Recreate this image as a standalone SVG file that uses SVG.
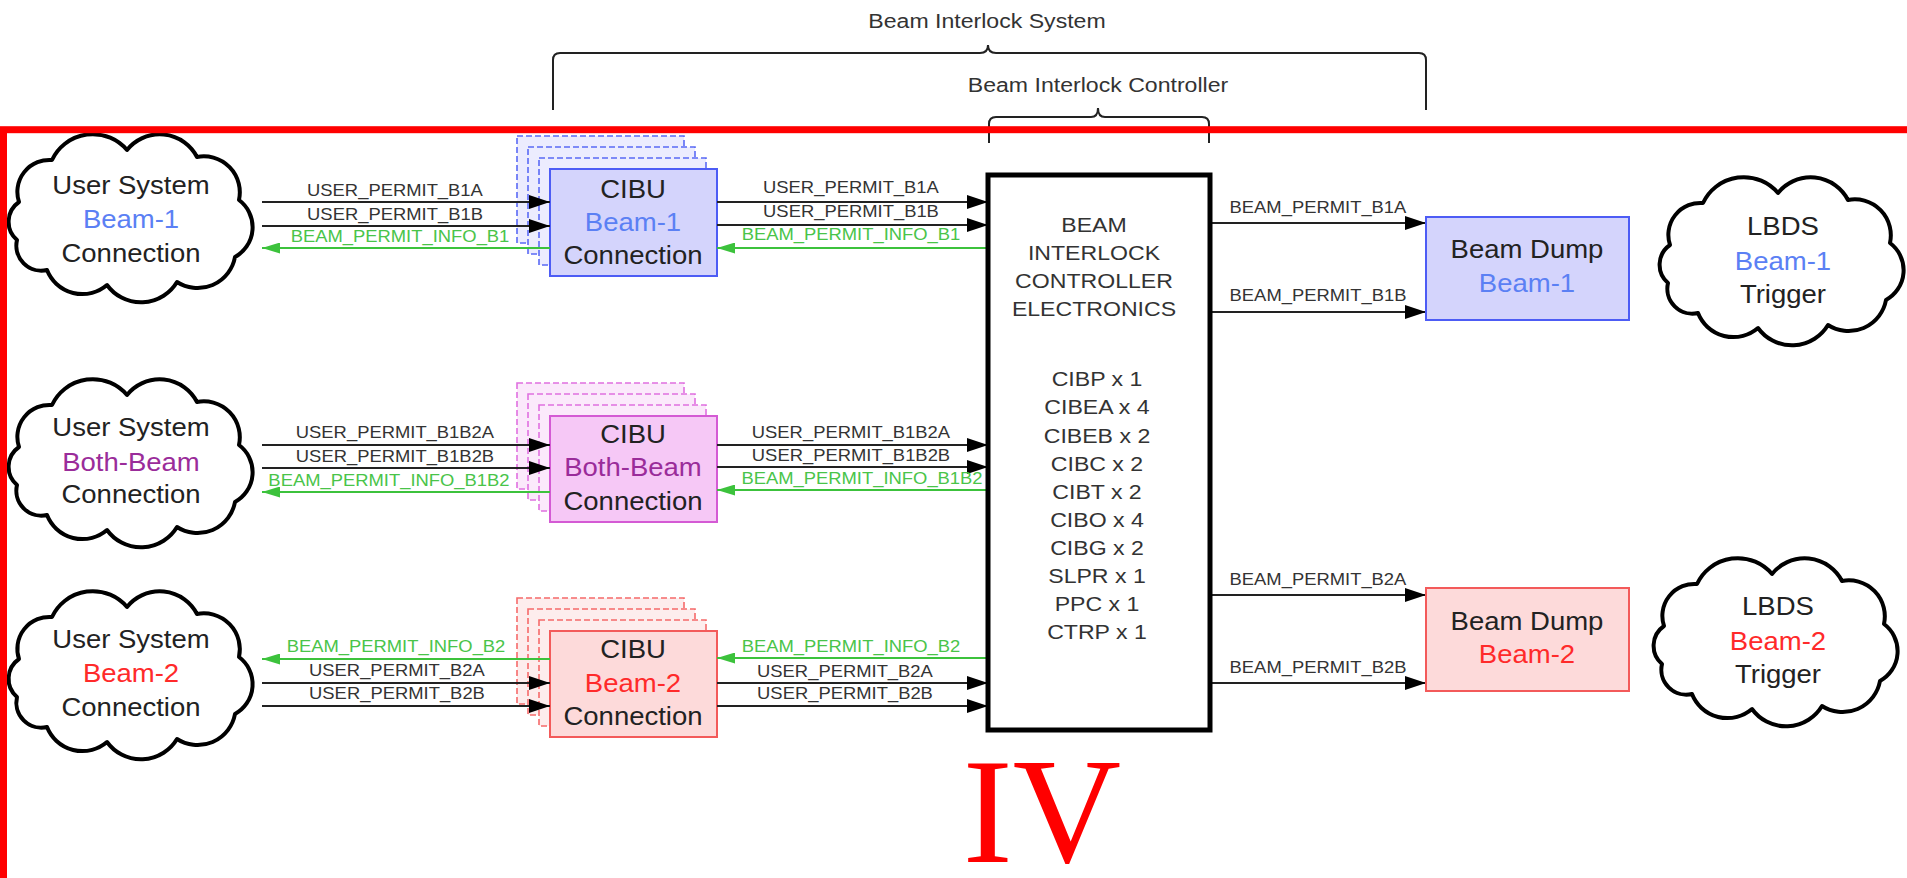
<svg xmlns="http://www.w3.org/2000/svg" width="1907" height="878" viewBox="0 0 1907 878">
<style>
text{font-family:"Liberation Sans",Arial,Helvetica,sans-serif;text-anchor:middle;transform-box:fill-box;transform-origin:center}
.n{font-size:25px;fill:#222;transform:scaleX(1.1)}
.h{font-size:21px;fill:#333;transform:scaleX(1.1)}
.l{font-size:16px;fill:#333;transform:scaleX(1.15)}
.lg{font-size:16px;fill:#49c449;transform:scaleX(1.15)}
.blue{fill:#5b80f4}.mag{fill:#9a2c9a}.red{fill:#ff2a2a}
.iv{font-family:"Liberation Serif","Times New Roman",serif;font-size:150px;fill:#ff0000}
.cloud{fill:#fff;stroke:#000;stroke-width:4;stroke-linejoin:round}
.w{stroke:#222;stroke-width:2;fill:none}
.wg{stroke:#3cc23c;stroke-width:2;fill:none}
.br{fill:none;stroke:#222;stroke-width:2}
.bb{fill:#d4d4fc;stroke:#4d5cf5;stroke-width:2}
.bbd{fill:#ececfe;stroke:#5a6af5;stroke-width:1.6;stroke-dasharray:6 3}
.mb{fill:#f6c8f6;stroke:#d45ad4;stroke-width:2}
.mbd{fill:#fbe9fb;stroke:#e070e0;stroke-width:1.6;stroke-dasharray:6 3}
.rb{fill:#fddada;stroke:#f35a5a;stroke-width:2}
.rbd{fill:#fdeded;stroke:#f56a6a;stroke-width:1.6;stroke-dasharray:6 3}
</style>
<defs>
<marker id="ab" markerUnits="userSpaceOnUse" markerWidth="22" markerHeight="14" refX="21" refY="7" orient="auto"><path d="M0,0 L21,7 L0,14 z" fill="#000"/></marker>
<marker id="ag" markerUnits="userSpaceOnUse" markerWidth="18" markerHeight="11" refX="18" refY="5.5" orient="auto"><path d="M0,0 L18,5.5 L0,11 z" fill="#3cc23c"/></marker>
<path id="cl" d="M12,70 A32,32 0 0 1 45,28 A45,45 0 0 1 120,18 A42,42 0 0 1 190,25 A36,36 0 0 1 232,68 A34,34 0 0 1 228,125 A38,38 0 0 1 170,150 A42,42 0 0 1 100,153 A38,38 0 0 1 40,138 A25,25 0 0 1 10,108 A24,24 0 0 1 12,70 z"/>
</defs>
<rect width="1907" height="878" fill="#fff"/>

<g id="braces">
<path class="br" d="M553,110 V60 Q553,53 560,53 H980 Q988,53 988,45 Q988,53 996,53 H1419 Q1426,53 1426,60 V110"/>
<path class="br" d="M989,143 V124 Q989,117 996,117 H1091 Q1098,117 1098,108 Q1098,117 1105,117 H1202 Q1209,117 1209,124 V143"/>
<text class="h" x="987" y="28">Beam Interlock System</text>
<text class="h" x="1098" y="92">Beam Interlock Controller</text>
</g>

<g id="user-beam1">
<use href="#cl" class="cloud" x="7" y="132"/>
<text class="n" x="131" y="194">User System</text>
<text class="n blue" x="131" y="228">Beam-1</text>
<text class="n" x="131" y="262">Connection</text>
</g>
<g id="user-both">
<use href="#cl" class="cloud" x="7" y="377"/>
<text class="n" x="131" y="436">User System</text>
<text class="n mag" x="131" y="471">Both-Beam</text>
<text class="n" x="131" y="503">Connection</text>
</g>
<g id="user-beam2">
<use href="#cl" class="cloud" x="7" y="589"/>
<text class="n" x="131" y="648">User System</text>
<text class="n red" x="131" y="682">Beam-2</text>
<text class="n" x="131" y="716">Connection</text>
</g>

<g id="cibu-beam1">
<rect class="bbd" x="517" y="136" width="167" height="107"/>
<rect class="bbd" x="528" y="147" width="167" height="107"/>
<rect class="bbd" x="539" y="158" width="167" height="107"/>
<rect class="bb" x="550" y="169" width="167" height="107"/>
<text class="n" x="633" y="198">CIBU</text>
<text class="n blue" x="633" y="231">Beam-1</text>
<text class="n" x="633" y="264">Connection</text>
</g>
<g id="cibu-both">
<rect class="mbd" x="517" y="383" width="167" height="106"/>
<rect class="mbd" x="528" y="394" width="167" height="106"/>
<rect class="mbd" x="539" y="405" width="167" height="106"/>
<rect class="mb" x="550" y="416" width="167" height="106"/>
<text class="n" x="633" y="443">CIBU</text>
<text class="n mag" x="633" y="476">Both-Beam</text>
<text class="n" x="633" y="510">Connection</text>
</g>
<g id="cibu-beam2">
<rect class="rbd" x="517" y="598" width="167" height="106"/>
<rect class="rbd" x="528" y="609" width="167" height="106"/>
<rect class="rbd" x="539" y="620" width="167" height="106"/>
<rect class="rb" x="550" y="631" width="167" height="106"/>
<text class="n" x="633" y="658">CIBU</text>
<text class="n red" x="633" y="692">Beam-2</text>
<text class="n" x="633" y="725">Connection</text>
</g>

<g id="connectors">
<path class="w" d="M262,202 H550" marker-end="url(#ab)"/>
<path class="w" d="M262,226 H550" marker-end="url(#ab)"/>
<path class="wg" d="M550,248 H262" marker-end="url(#ag)"/>
<path class="w" d="M717,202 H988" marker-end="url(#ab)"/>
<path class="w" d="M717,225 H988" marker-end="url(#ab)"/>
<path class="wg" d="M988,248 H717" marker-end="url(#ag)"/>

<path class="w" d="M262,445 H550" marker-end="url(#ab)"/>
<path class="w" d="M262,468 H550" marker-end="url(#ab)"/>
<path class="wg" d="M550,492 H262" marker-end="url(#ag)"/>
<path class="w" d="M717,445 H988" marker-end="url(#ab)"/>
<path class="w" d="M717,467 H988" marker-end="url(#ab)"/>
<path class="wg" d="M988,490 H717" marker-end="url(#ag)"/>

<path class="wg" d="M550,659 H262" marker-end="url(#ag)"/>
<path class="w" d="M262,683 H550" marker-end="url(#ab)"/>
<path class="w" d="M262,706 H550" marker-end="url(#ab)"/>
<path class="wg" d="M988,658 H717" marker-end="url(#ag)"/>
<path class="w" d="M717,683 H988" marker-end="url(#ab)"/>
<path class="w" d="M717,706 H988" marker-end="url(#ab)"/>

<path class="w" d="M1212,223 H1426" marker-end="url(#ab)"/>
<path class="w" d="M1212,312 H1426" marker-end="url(#ab)"/>
<path class="w" d="M1212,595 H1426" marker-end="url(#ab)"/>
<path class="w" d="M1212,683 H1426" marker-end="url(#ab)"/>

<text class="l" x="395" y="196">USER_PERMIT_B1A</text>
<text class="l" x="395" y="220">USER_PERMIT_B1B</text>
<text class="lg" x="400" y="242">BEAM_PERMIT_INFO_B1</text>
<text class="l" x="851" y="193">USER_PERMIT_B1A</text>
<text class="l" x="851" y="217">USER_PERMIT_B1B</text>
<text class="lg" x="851" y="240">BEAM_PERMIT_INFO_B1</text>

<text class="l" x="395" y="438">USER_PERMIT_B1B2A</text>
<text class="l" x="395" y="462">USER_PERMIT_B1B2B</text>
<text class="lg" x="389" y="486">BEAM_PERMIT_INFO_B1B2</text>
<text class="l" x="851" y="438">USER_PERMIT_B1B2A</text>
<text class="l" x="851" y="461">USER_PERMIT_B1B2B</text>
<text class="lg" x="862" y="484">BEAM_PERMIT_INFO_B1B2</text>

<text class="lg" x="396" y="652">BEAM_PERMIT_INFO_B2</text>
<text class="l" x="397" y="676">USER_PERMIT_B2A</text>
<text class="l" x="397" y="699">USER_PERMIT_B2B</text>
<text class="lg" x="851" y="652">BEAM_PERMIT_INFO_B2</text>
<text class="l" x="845" y="677">USER_PERMIT_B2A</text>
<text class="l" x="845" y="699">USER_PERMIT_B2B</text>

<text class="l" x="1318" y="213">BEAM_PERMIT_B1A</text>
<text class="l" x="1318" y="301">BEAM_PERMIT_B1B</text>
<text class="l" x="1318" y="585">BEAM_PERMIT_B2A</text>
<text class="l" x="1318" y="673">BEAM_PERMIT_B2B</text>
</g>

<g id="bic">
<rect x="988" y="175" width="222" height="555" fill="#fff" stroke="#000" stroke-width="5"/>
<text class="h" x="1094" y="232">BEAM</text>
<text class="h" x="1094" y="260">INTERLOCK</text>
<text class="h" x="1094" y="288">CONTROLLER</text>
<text class="h" x="1094" y="316">ELECTRONICS</text>
<text class="h" x="1097" y="386">CIBP x 1</text>
<text class="h" x="1097" y="414">CIBEA x 4</text>
<text class="h" x="1097" y="443">CIBEB x 2</text>
<text class="h" x="1097" y="471">CIBC x 2</text>
<text class="h" x="1097" y="499">CIBT x 2</text>
<text class="h" x="1097" y="527">CIBO x 4</text>
<text class="h" x="1097" y="555">CIBG x 2</text>
<text class="h" x="1097" y="583">SLPR x 1</text>
<text class="h" x="1097" y="611">PPC x 1</text>
<text class="h" x="1097" y="639">CTRP x 1</text>
</g>

<g id="dump-beam1">
<rect class="bb" x="1426" y="217" width="203" height="103"/>
<text class="n" x="1527" y="258">Beam Dump</text>
<text class="n blue" x="1527" y="292">Beam-1</text>
</g>
<g id="dump-beam2">
<rect class="rb" x="1426" y="588" width="203" height="103"/>
<text class="n" x="1527" y="630">Beam Dump</text>
<text class="n red" x="1527" y="663">Beam-2</text>
</g>
<g id="lbds-beam1">
<use href="#cl" class="cloud" x="1658" y="175"/>
<text class="n" x="1783" y="235">LBDS</text>
<text class="n blue" x="1783" y="270">Beam-1</text>
<text class="n" x="1783" y="303">Trigger</text>
</g>
<g id="lbds-beam2">
<use href="#cl" class="cloud" x="1652" y="556"/>
<text class="n" x="1778" y="615">LBDS</text>
<text class="n red" x="1778" y="650">Beam-2</text>
<text class="n" x="1778" y="683">Trigger</text>
</g>

<g id="frame">
<rect x="3.5" y="129.7" width="2000" height="1000" fill="none" stroke="#ff0000" stroke-width="7"/>
<text class="iv" x="1042" y="862">IV</text>
</g>
</svg>
